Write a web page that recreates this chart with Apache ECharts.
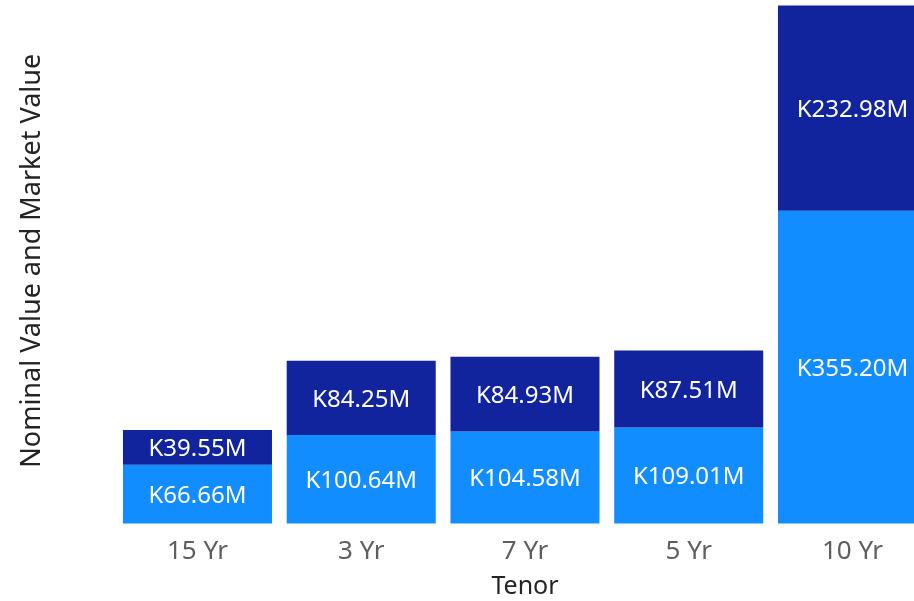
<!DOCTYPE html>
<html>
<head>
<meta charset="utf-8">
<script src="https://cdn.jsdelivr.net/npm/echarts@6/dist/echarts.min.js"></script>
<style>
  html, body { margin: 0; padding: 0; background: #fff; }
  #main { width: 914px; height: 601px; }
</style>
</head>
<body>
<div id="main"></div>
<script>
var categories = ['15 Yr', '3 Yr', '7 Yr', '5 Yr', '10 Yr'];
var marketValue = [66.66, 100.64, 104.58, 109.01, 355.20];
var nominalValue = [39.55, 84.25, 84.93, 87.51, 232.98];

var chart = echarts.init(document.getElementById('main'));
var fontFamily = '"Noto Sans", "Open Sans", sans-serif';

function fmt(p) {
    return 'K' + p.value.toFixed(2) + 'M';
}

var option = {
    animation: false,
    grid: {
        left: 115.6,
        width: 818.75,
        top: 4,
        height: 519.5,
        outerBoundsMode: 'none'
    },
    xAxis: {
        type: 'category',
        data: categories,
        name: 'Tenor',
        nameLocation: 'middle',
        nameGap: 51,
        nameTextStyle: { color: '#252423', fontSize: 25, fontFamily: fontFamily },
        axisLine: { show: false },
        axisTick: { show: false },
        axisLabel: { color: '#605E5C', fontSize: 26, margin: 15, fontFamily: fontFamily }
    },
    yAxis: {
        type: 'value',
        min: 0,
        max: 590,
        name: 'Nominal Value and Market Value',
        nameLocation: 'middle',
        nameGap: 70,
        nameTextStyle: { color: '#252423', fontSize: 27, fontFamily: fontFamily, padding: [0, 0, 0, 6] },
        axisLine: { show: false },
        axisTick: { show: false },
        axisLabel: { show: false },
        splitLine: { show: false }
    },
    series: [
        {
            name: 'Market Value',
            type: 'bar',
            stack: 'total',
            barCategoryGap: '9%',
            data: marketValue,
            itemStyle: { color: '#118DFF' },
            label: {
                show: true,
                position: 'inside',
                offset: [0, 2],
                color: '#fff',
                fontSize: 24,
                fontFamily: fontFamily,
                formatter: fmt
            }
        },
        {
            name: 'Nominal Value',
            type: 'bar',
            stack: 'total',
            barCategoryGap: '9%',
            data: nominalValue,
            itemStyle: { color: '#12239E' },
            label: {
                show: true,
                position: 'inside',
                offset: [0, 2],
                color: '#fff',
                fontSize: 24,
                fontFamily: fontFamily,
                formatter: fmt
            }
        }
    ]
};
chart.setOption(option);
</script>
</body>
</html>
